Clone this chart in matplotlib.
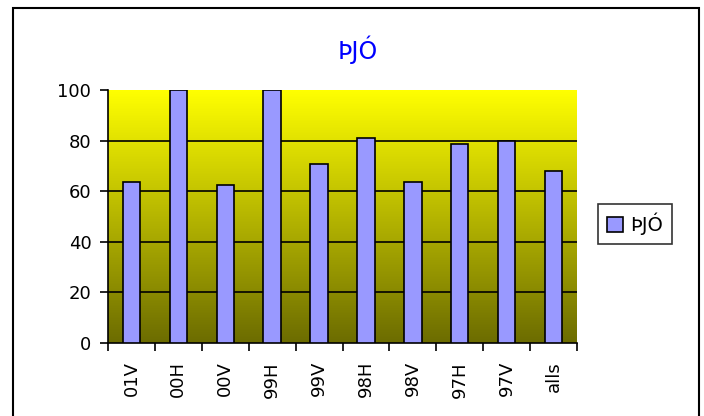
import matplotlib
matplotlib.use("Agg")
import matplotlib.pyplot as plt
import numpy as np
from matplotlib.patches import Rectangle

# data
categories = ["01V", "00H", "00V", "99H", "99V", "98H", "98V", "97H", "97V", "alls"]
values = [63.7, 100, 62.3, 100, 70.8, 81.2, 63.8, 78.8, 80.0, 67.8]
series_name = "ÞJÓ"
y_ticks = [0, 20, 40, 60, 80, 100]

plt.rcParams['font.family'] = ['DejaVu Sans']

fig = plt.figure(figsize=(7.04, 4.16), dpi=100)
ax = fig.add_axes([108/704, 1 - 343/416, (577-108)/704, (343-90)/416])

# outer chart border
fig.patches.append(Rectangle((13/704, -0.1), (699-13)/704, 1.1 - 8/416,
                             transform=fig.transFigure, fill=False,
                             edgecolor='black', linewidth=1.5, zorder=0))

# yellow -> olive gradient in the plot area
n = len(categories)
grad = np.linspace(0, 1, 256).reshape(-1, 1)
top = np.array([1.0, 1.0, 0.0])
bot = np.array([0x6c/255, 0x6c/255, 0.0])
img = top * (1 - grad[..., None]) + bot * grad[..., None]
ax.imshow(img, extent=[-0.5, n - 0.5, 0, 100], aspect='auto', zorder=0,
          origin='upper')

x = np.arange(n)
ax.bar(x, values, width=0.37, color='#9999FF', edgecolor='black',
       linewidth=1.2, zorder=3, label=series_name)

for v in y_ticks[1:-1]:
    ax.axhline(v, color='black', linewidth=1.2, zorder=2)

ax.set_xlim(-0.5, n - 0.5)
ax.set_ylim(0, 100)
ax.set_yticks(y_ticks)
ax.set_yticklabels([str(t) for t in y_ticks], fontsize=13)
ax.set_xticks(x)
ax.set_xticklabels(categories, rotation=90, fontsize=13, va='top')
ax.tick_params(axis='x', length=0, pad=13)
ax.set_xticks(np.arange(-0.5, n, 1), minor=True)
ax.tick_params(axis='x', which='minor', length=6, width=1.2, direction='out')
ax.tick_params(axis='y', length=6, width=1.2, direction='out', pad=6)

ax.spines['top'].set_visible(False)
ax.spines['right'].set_visible(False)
ax.spines['left'].set_linewidth(1.2)
ax.spines['bottom'].set_linewidth(1.2)

fig.text(358/704, 1 - 50/416, series_name, color='#0000FF', fontsize=17,
         ha='center', va='center')

leg = ax.legend(loc='center left', bbox_to_anchor=(1.025, 0.47), fontsize=14,
                frameon=True, fancybox=False, edgecolor='black',
                handlelength=0.8, handleheight=0.8, handletextpad=0.4,
                borderpad=0.45)
leg.get_frame().set_linewidth(1.2)

fig.savefig("out.png", dpi=100)
